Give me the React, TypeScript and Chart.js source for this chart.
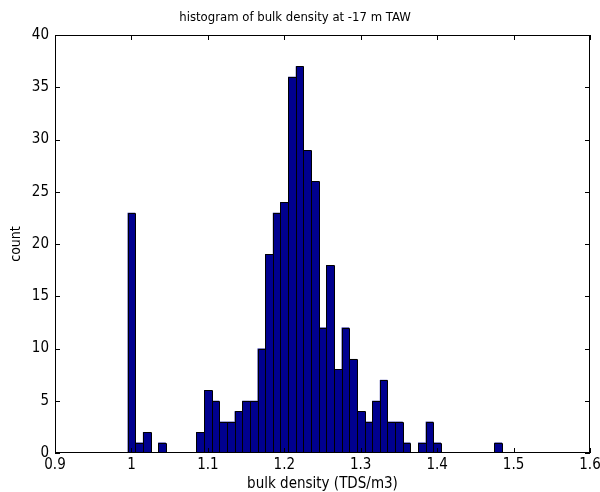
import React, { useEffect, useRef } from "react";
import { Chart, registerables } from "chart.js";

Chart.register(...registerables);

const binCenters = [
  1.0, 1.01, 1.02, 1.03, 1.04, 1.05, 1.06, 1.07, 1.08, 1.09,
  1.1, 1.11, 1.12, 1.13, 1.14, 1.15, 1.16, 1.17, 1.18, 1.19,
  1.2, 1.21, 1.22, 1.23, 1.24, 1.25, 1.26, 1.27, 1.28, 1.29,
  1.3, 1.31, 1.32, 1.33, 1.34, 1.35, 1.36, 1.37, 1.38, 1.39,
  1.4, 1.41, 1.42, 1.43, 1.44, 1.45, 1.46, 1.47, 1.48,
];
const counts = [
  23, 1, 2, 0, 1, 0, 0, 0, 0, 2,
  6, 5, 3, 3, 4, 5, 5, 10, 19, 23,
  24, 36, 37, 29, 26, 12, 18, 8, 12, 9,
  4, 3, 5, 7, 3, 3, 1, 0, 1, 3,
  1, 0, 0, 0, 0, 0, 0, 0, 1,
];
const xRange = [0.9, 1.6];
const yRange = [0, 40];
const titleText = "histogram of bulk density at -17 m TAW";
const xLabel = "bulk density (TDS/m3)";
const yLabel = "count";

const BAR_COLOR = "#00008F";
const FONT = "'DejaVu Sans Condensed', 'Liberation Sans Narrow', 'Liberation Sans', Arial, sans-serif";

const edgesPlugin = {
  id: "edges",
  afterDatasetsDraw(chart: any) {
    const { ctx } = chart;
    const meta = chart.getDatasetMeta(0);
    const boxes: number[][] = [];
    meta.data.forEach((el: any, i: number) => {
      if (!counts[i]) return;
      const { x, y, base, width } = el.getProps(["x", "y", "base", "width"], true);
      boxes.push([Math.round(x - width / 2), Math.round(x + width / 2), Math.round(y), Math.round(base)]);
    });
    ctx.save();
    ctx.fillStyle = BAR_COLOR;
    boxes.forEach(([l, r, t, b]) => ctx.fillRect(l, t, r - l, b - t));
    ctx.strokeStyle = "#000";
    ctx.lineWidth = 1;
    ctx.beginPath();
    boxes.forEach(([l, r, t, b]) => {
      ctx.moveTo(l + 0.5, b);
      ctx.lineTo(l + 0.5, t + 0.5);
      ctx.lineTo(r + 0.5, t + 0.5);
      ctx.lineTo(r + 0.5, b);
    });
    ctx.stroke();
    ctx.restore();
  },
};

const framePlugin = {
  id: "frame",
  afterDatasetsDraw(chart: any) {
    const { ctx, chartArea, scales } = chart;
    const { left, right, top, bottom } = chartArea;
    const x = scales.x;
    const y = scales.y;
    ctx.save();
    ctx.strokeStyle = "#000";
    ctx.lineWidth = 1;
    ctx.beginPath();
    x.ticks.forEach((t: any) => {
      const p = Math.round(x.getPixelForValue(t.value)) + 0.5;
      ctx.moveTo(p, bottom);
      ctx.lineTo(p, bottom - 5);
      ctx.moveTo(p, top);
      ctx.lineTo(p, top + 5);
    });
    y.ticks.forEach((t: any) => {
      const p = Math.round(y.getPixelForValue(t.value)) + 0.5;
      ctx.moveTo(left, p);
      ctx.lineTo(left + 5, p);
      ctx.moveTo(right, p);
      ctx.lineTo(right - 5, p);
    });
    ctx.stroke();
    ctx.strokeRect(left + 0.5, top + 0.5, right - left - 1, bottom - top - 1);
    ctx.restore();
  },
};

export default function App() {
  const ref = useRef<HTMLCanvasElement | null>(null);

  useEffect(() => {
    if (!ref.current) return;
    Chart.defaults.font.family = FONT;
    Chart.defaults.color = "#000";
    const data = binCenters.map((b, i) => ({ x: b, y: counts[i] === 0 ? null : counts[i] }));
    const chart = new Chart(ref.current, {
      type: "bar",
      data: {
        datasets: [
          {
            data: data as any,
            backgroundColor: BAR_COLOR,
            borderWidth: 0,
            barPercentage: 1,
            categoryPercentage: 1,
            inflateAmount: 0,
          } as any,
        ],
      },
      options: {
        responsive: false,
        animation: false,
        events: [],
        layout: { padding: { left: 0, right: 10, top: 0, bottom: 0 } },
        plugins: {
          legend: { display: false },
          tooltip: { enabled: false },
          title: {
            display: true,
            text: titleText,
            color: "#000",
            font: { size: 13, weight: "normal", family: FONT, lineHeight: 1.2 },
            padding: { top: 10, bottom: 9.4 },
          },
        },
        scales: {
          x: {
            type: "linear",
            min: xRange[0],
            max: xRange[1],
            offset: false,
            grid: { display: false, drawTicks: false },
            border: { display: false },
            ticks: {
              stepSize: 0.1,
              padding: 3,
              color: "#000",
              maxRotation: 0,
              autoSkip: false,
              font: { size: 15, family: FONT, lineHeight: 1.2 },
              callback: (v: any) => String(parseFloat(Number(v).toFixed(1))),
            },
            title: {
              display: true,
              text: xLabel,
              color: "#000",
              font: { size: 15, family: FONT, lineHeight: 1 },
              padding: { top: 0, bottom: 0 },
            },
            afterFit: (s: any) => {
              s.height = 39;
              s.paddingLeft = 0;
              s.paddingRight = 0;
            },
          },
          y: {
            min: yRange[0],
            max: yRange[1],
            grid: { display: false, drawTicks: false },
            border: { display: false },
            ticks: {
              stepSize: 5,
              padding: 6,
              color: "#000",
              font: { size: 15, family: FONT, lineHeight: 1.2 },
            },
            title: {
              display: true,
              text: yLabel,
              color: "#000",
              font: { size: 14, family: FONT, lineHeight: 1 },
              padding: { top: 9, bottom: 0 },
            },
            afterFit: (s: any) => {
              s.width = 55;
              s.paddingTop = 0;
              s.paddingBottom = 0;
            },
          },
        },
      } as any,
      plugins: [edgesPlugin, framePlugin],
    });
    return () => chart.destroy();
  }, []);

  return (
    <div style={{ position: "absolute", left: 0, top: 0, width: 600, height: 492, background: "#fff" }}>
      <canvas ref={ref} width={600} height={492} style={{ display: "block" }} />
    </div>
  );
}
